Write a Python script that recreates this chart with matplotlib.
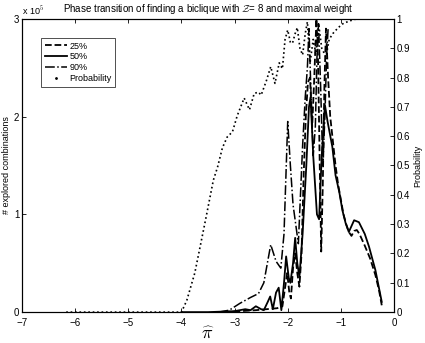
import matplotlib
matplotlib.use("Agg")
import matplotlib.pyplot as plt
from matplotlib.lines import Line2D

plt.rcParams['font.family'] = ['Liberation Sans', 'DejaVu Sans']
plt.rcParams['mathtext.fontset'] = 'cm'

# ---- data (values of the three curves in units of 1e5) ----
x25 = [-3.2, -2.9, -2.6, -2.4, -2.2, -2.1, -2.05, -2.01, -1.97, -1.94, -1.9, -1.86, -1.82, -1.78,
       -1.74, -1.7, -1.66, -1.62, -1.58, -1.54, -1.5, -1.46, -1.43, -1.4, -1.37, -1.34, -1.31,
       -1.28, -1.24, -1.2, -1.15, -1.1, -1.05, -1.0, -0.95, -0.9, -0.85, -0.8, -0.75, -0.7,
       -0.65, -0.55, -0.45, -0.35, -0.28, -0.23]
y25 = [0.0, 0.01, 0.02, 0.03, 0.04, 0.06, 0.25, 0.4, 0.2, 0.14, 0.45, 0.6, 0.4, 0.26,
       0.6, 1.4, 2.0, 2.35, 2.4, 1.9, 2.4, 3.0, 2.6, 1.6, 0.62, 1.3, 2.3,
       2.9, 2.4, 2.0, 1.75, 1.5, 1.3, 1.15, 1.0, 0.9, 0.82, 0.78, 0.83, 0.84,
       0.8, 0.68, 0.55, 0.38, 0.22, 0.07]

x50 = [-4.0, -3.5, -3.0, -2.8, -2.7, -2.6, -2.5, -2.45, -2.38, -2.33, -2.28, -2.22, -2.17,
       -2.12, -2.07, -2.03, -1.98, -1.95, -1.9, -1.86, -1.82, -1.78, -1.72, -1.65, -1.6,
       -1.57, -1.52, -1.45, -1.41, -1.36, -1.3, -1.25, -1.16, -1.1, -1.03, -0.97, -0.91,
       -0.85, -0.8, -0.75, -0.66, -0.55, -0.47, -0.35, -0.23]
y50 = [0.0, 0.0, 0.01, 0.03, 0.02, 0.06, 0.03, 0.02, 0.1, 0.16, 0.03, 0.2, 0.25,
       0.02, 0.3, 0.57, 0.35, 0.3, 0.5, 0.76, 0.5, 0.36, 0.8, 1.5, 2.1,
       2.2, 1.6, 1.0, 0.95, 1.6, 2.12, 1.95, 1.69, 1.4, 1.23, 1.04, 0.91,
       0.82, 0.88, 0.94, 0.92, 0.8, 0.67, 0.43, 0.105]

x90 = [-3.3, -3.1, -2.9, -2.7, -2.55, -2.45, -2.32, -2.22, -2.13, -2.07, -2.0, -1.95,
       -1.9, -1.85, -1.8, -1.76, -1.72, -1.67, -1.63, -1.6, -1.56, -1.52, -1.48, -1.45,
       -1.42, -1.38, -1.34, -1.3, -1.27, -1.24]
y90 = [0.0, 0.02, 0.09, 0.15, 0.19, 0.3, 0.69, 0.52, 0.45, 0.8, 1.95, 1.5,
       1.1, 0.9, 0.7, 1.2, 1.7, 2.2, 2.5, 2.9, 2.2, 1.6, 1.9, 2.6,
       2.95, 2.3, 1.5, 2.0, 2.6, 2.9]

xp = [-6.17, -5.0, -4.5, -4.0, -3.9, -3.75, -3.63, -3.53, -3.4, -3.32, -3.23, -3.14, -3.04,
      -2.95, -2.82, -2.72, -2.63, -2.55, -2.5, -2.4, -2.32, -2.24, -2.16, -2.1, -2.05,
      -2.0, -1.95, -1.91, -1.86, -1.82, -1.77, -1.72, -1.67, -1.63, -1.58, -1.52, -1.47,
      -1.42, -1.36, -1.28, -1.22, -1.15, -1.05, -0.95, -0.8, -0.7, -0.2]
yp = [0.0, 0.0, 0.0, 0.0, 0.04, 0.133, 0.24, 0.33, 0.45, 0.495, 0.56, 0.597, 0.615,
      0.67, 0.73, 0.69, 0.746, 0.75, 0.74, 0.79, 0.837, 0.78, 0.85, 0.83, 0.93,
      0.962, 0.92, 0.917, 0.95, 0.97, 0.9, 0.877, 0.95, 0.99, 0.85, 0.93, 0.88,
      0.985, 0.9, 0.87, 0.93, 0.95, 0.97, 0.985, 0.995, 1.0, 1.0]

labels = ['25%', '50%', '90%', 'Probability']

fig = plt.figure(figsize=(4.25, 3.43), dpi=100)
ax = fig.add_axes([0.052, 0.090, 0.875, 0.855])
ax2 = ax.twinx()

ax.plot(x25, y25, 'k--', lw=1.3)
ax.plot(x50, y50, 'k-', lw=1.3)
ax.plot(x90, y90, 'k-.', lw=1.1)
ax2.plot(xp, yp, 'k:', lw=1.2)

ax.set_xlim(-7, 0)
ax.set_ylim(0, 3)
ax2.set_ylim(0, 1)
ax.set_xticks(range(-7, 1))
ax.set_xticklabels([str(v).replace('-', '\u2212') if v != 0 else '0' for v in range(-7, 1)])
ax.set_yticks([0, 1, 2, 3])
ax2.set_yticks([i / 10 for i in range(11)])
ax2.set_yticklabels(['0'] + ['%.1f' % (i / 10) for i in range(1, 10)] + ['1'])

for a in (ax, ax2):
    a.tick_params(direction='in', length=3, labelsize=7, width=0.6, pad=2)
    for s in a.spines.values():
        s.set_linewidth(0.8)
ax.tick_params(top=True)
ax.tick_params(axis='x', pad=4)

ax.text(0.0, 1.005, r'x 10$^{5}$', transform=ax.transAxes, fontsize=6.5,
        ha='left', va='bottom')
ax.set_title(r'Phase transition of finding a biclique with $\mathcal{Z}$= 8 and maximal weight',
             fontsize=7, pad=5)
ax.set_ylabel('# explored combinations', fontsize=6.5, labelpad=2)
ax2.set_ylabel('Probability', fontsize=6.5, labelpad=2)
ax.set_xlabel(r'$\widehat{\pi}$', fontsize=13, labelpad=-2)

handles = [Line2D([], [], color='k', ls='--', lw=1.3),
           Line2D([], [], color='k', ls='-', lw=1.3),
           Line2D([], [], color='k', ls='-.', lw=1.1),
           Line2D([], [], color='k', ls='none', marker='.', markersize=2)]
leg = ax.legend(handles, labels, loc='upper left', bbox_to_anchor=(0.04, 0.95),
                fontsize=6.5, frameon=True, fancybox=False, edgecolor='k',
                handlelength=2.4, handletextpad=0.3, borderpad=0.4, labelspacing=0.2)
leg.get_frame().set_linewidth(0.6)

fig.savefig('out.png', dpi=100)
